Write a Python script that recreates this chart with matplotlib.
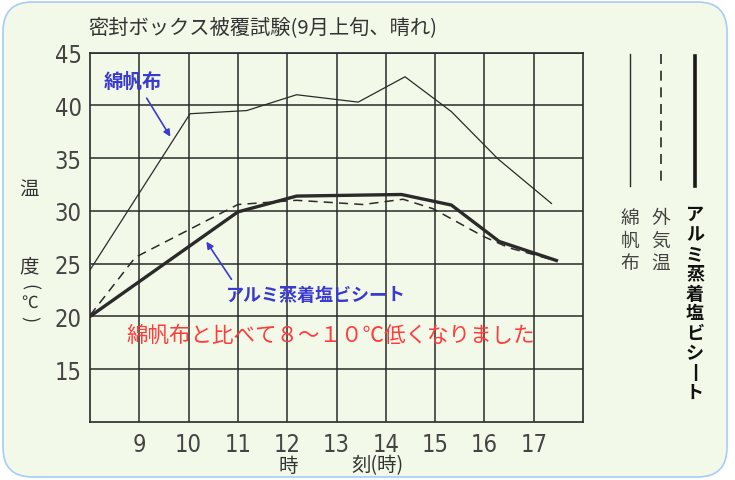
import matplotlib
matplotlib.use("Agg")
import matplotlib.pyplot as plt
from matplotlib.patches import FancyBboxPatch
from matplotlib import font_manager as fm
import warnings
warnings.filterwarnings("ignore")

plt.rcParams['font.family'] = ['Noto Sans CJK JP', 'DejaVu Sans']

# ---- data ----
title = "密封ボックス被覆試験(9月上旬、晴れ)"
hours_ticks = [9, 10, 11, 12, 13, 14, 15, 16, 17]
temp_ticks = [15, 20, 25, 30, 35, 40, 45]

cotton_x = [8.0, 10.03, 11.18, 12.19, 13.44, 14.39, 15.33, 16.28, 17.36]
cotton_y = [24.4, 39.2, 39.5, 41.0, 40.3, 42.7, 39.4, 34.9, 30.7]

outside_x = [8.0, 8.92, 11.0, 12.19, 13.54, 14.35, 14.96, 15.97, 16.5, 17.43]
outside_y = [20.1, 25.6, 30.6, 31.0, 30.6, 31.1, 30.2, 27.6, 26.5, 25.3]

alumi_x = [8.0, 11.0, 12.19, 14.32, 15.33, 16.3, 17.46]
alumi_y = [20.0, 29.9, 31.4, 31.55, 30.55, 27.1, 25.3]

name_cotton = "綿帆布"
name_outside = "外気温"
name_alumi = "アルミ蒸着塩ビシート"
note = "綿帆布と比べて８～１０℃低くなりました"

# pick a narrow font for the digits if one exists
names = {f.name for f in fm.fontManager.ttflist}
cond = [f for f in fm.fontManager.ttflist
        if 'ondensed' in f.fname or 'Narrow' in f.fname]
if any('DejaVu' in f.name for f in cond):
    num_kw = dict(family='DejaVu Sans', fontstretch='condensed')
elif cond:
    num_kw = dict(family=cond[0].name, fontstretch=cond[0].stretch)
else:
    num_kw = dict(family='Roboto', fontweight='light')

W, H = 735, 481
fig = plt.figure(figsize=(W / 100, H / 100), dpi=100)
fig.patch.set_facecolor("white")
bg = "#f3f9e9"
frame = FancyBboxPatch((3 / W, 3 / H), 724 / W, 475 / H,
                       boxstyle="round,pad=0,rounding_size=0.04",
                       transform=fig.transFigure, facecolor=bg,
                       edgecolor="#a6cdf5", linewidth=1.2,
                       mutation_aspect=W / H, zorder=-10)
fig.patches.append(frame)

ax = fig.add_axes([90 / W, 1 - 423 / H, (583 - 90) / W, (423 - 53.5) / H])
ax.set_facecolor(bg)
ax.set_xlim(8, 18)
ax.set_ylim(10, 45)
ax.set_xticks(hours_ticks)
ax.set_yticks(temp_ticks)
ax.set_xticks(range(8, 19), minor=True)
ax.grid(True, color="#2a2a2a", linewidth=1.1)
ax.set_axisbelow(True)
for s in ax.spines.values():
    s.set_color("#2a2a2a")
    s.set_linewidth(1.2)
ax.tick_params(length=0, which="both")
ax.set_xticklabels([str(h) for h in hours_ticks], fontsize=17, color="#444444", **num_kw)
ax.set_yticklabels([str(t) for t in temp_ticks], fontsize=17, color="#444444", **num_kw)
ax.tick_params(axis="x", pad=7)
ax.tick_params(axis="y", pad=6)

ax.plot(cotton_x, cotton_y, color="#2a2a2a", linewidth=0.9)
ax.plot(outside_x, outside_y, color="#2a2a2a", linewidth=1.1, dashes=(6, 4))
ax.plot(alumi_x, alumi_y, color="#2a2a2a", linewidth=2.4)

blue = "#3a3ad0"
ax.annotate("", xy=(9.66, 36.8), xytext=(9.12, 40.9),
            arrowprops=dict(arrowstyle="-|>", color=blue, lw=1.2, mutation_scale=10))
ax.text(8.87, 42.3, name_cotton, color=blue, fontsize=14, fontweight="bold",
        ha="center", va="center")
ax.annotate("", xy=(10.33, 27.3), xytext=(10.9, 23.3),
            arrowprops=dict(arrowstyle="-|>", color=blue, lw=1.2, mutation_scale=10))
ax.text(12.58, 22.1, name_alumi, color=blue, fontsize=13, fontweight="bold",
        ha="center", va="center")
ax.text(12.89, 18.3, note, color="#ff3c3c", fontsize=15.5, ha="center", va="center")

# title & axis labels
fig.text(88 / W, 1 - 28 / H, title, fontsize=14.6, color="#333333", ha="left", va="center")
fig.text(288 / W, 1 - 466 / H, "時", fontsize=14, color="#333333", ha="center", va="center")
fig.text(377 / W, 1 - 466 / H, "刻(時)", fontsize=14, color="#333333", ha="center", va="center")
fig.text(29 / W, 1 - 190 / H, "温", fontsize=14, color="#333333", ha="center", va="center")
fig.text(29 / W, 1 - 267 / H, "度", fontsize=14, color="#333333", ha="center", va="center")
fig.text(29 / W, 1 - 287 / H, "(", fontsize=13, color="#333333", ha="center", va="center",
         rotation=-90)
fig.text(30 / W, 1 - 303 / H, "℃", fontsize=12, color="#333333", ha="center", va="center")
fig.text(29 / W, 1 - 319 / H, ")", fontsize=13, color="#333333", ha="center", va="center",
         rotation=-90)

# right-side legend
fig.add_artist(plt.Line2D([630 / W, 630 / W], [1 - 55 / H, 1 - 187 / H],
                          color="#2a2a2a", linewidth=1.0, transform=fig.transFigure))
fig.add_artist(plt.Line2D([661 / W, 661 / W], [1 - 55 / H, 1 - 187 / H],
                          color="#2a2a2a", linewidth=1.2, dashes=(6, 4),
                          transform=fig.transFigure))
fig.add_artist(plt.Line2D([695 / W, 695 / W], [1 - 57 / H, 1 - 187 / H],
                          color="#1a1a1a", linewidth=2.6, transform=fig.transFigure))


def vtext(x, ytop, s, ls=1.0, **kw):
    s = s.replace("ー", "丨")
    fig.text(x / W, 1 - ytop / H, "\n".join(s), ha="center", va="top",
             linespacing=ls, **kw)


vtext(630, 208, name_cotton, ls=1.1, fontsize=13.5, color="#444444")
vtext(661, 208, name_outside, ls=1.1, fontsize=13.5, color="#444444")
vtext(695, 205, name_alumi, ls=1.06, fontsize=13, color="#111111", fontweight="bold")

fig.savefig("out.png", dpi=100, facecolor="white")
